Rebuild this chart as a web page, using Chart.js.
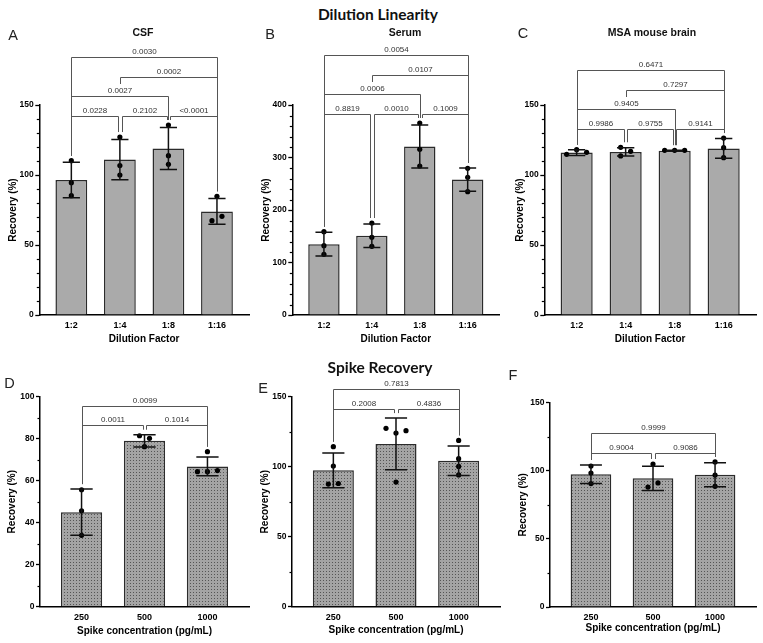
<!DOCTYPE html>
<html>
<head>
<meta charset="utf-8">
<script src="https://cdn.jsdelivr.net/npm/chart.js@4.4.1/dist/chart.umd.min.js"></script>
<style>
  body { margin: 0; background: #fff; }
  #fig { position: relative; width: 763px; height: 643px; overflow: hidden;
         font-family: "Liberation Sans", Arial, sans-serif; color: #111; }
  #fig canvas { position: absolute; }
  .lbl { position: absolute; transform: translate(-50%, -50%); white-space: nowrap; }
  .head { font-family: Lato, "Open Sans", sans-serif; font-weight: 700; font-size: 15.5px; }
  .letter { font-size: 14.5px; font-weight: 300; color: #222; }
  .ptitle { font-weight: 700; font-size: 10.5px; }
</style>
</head>
<body>
<div id="fig"></div>
<script>
// ---- data ----
var dilutionLabels = ['1:2', '1:4', '1:8', '1:16'];
var spikeLabels = ['250', '500', '1000'];

// A - CSF
var csfMean = [96.4, 111, 119, 74];
var csfSd = [12.7, 14.4, 15, 9.2];
var csfPoints = [[110.2, 94.5, 85.2], [127.1, 106.7, 100], [135.7, 113.8, 107.6], [84.8, 67.4, 70.5]];
var csfTests = [[0, 1, '0.0228'], [1, 2, '0.2102'], [2, 3, '<0.0001'], [0, 2, '0.0027'], [1, 3, '0.0002'], [0, 3, '0.0030']];

// B - Serum
var serumMean = [135, 151, 321, 258];
var serumSd = [22.8, 22.3, 41, 22.2];
var serumPoints = [[158.7, 132, 115.6], [175.2, 148, 130.8], [365.7, 315.6, 283.8], [279.4, 262.2, 235]];
var serumTests = [[0, 1, '0.8819'], [1, 2, '0.0010'], [2, 3, '0.1009'], [0, 2, '0.0006'], [1, 3, '0.0107'], [0, 3, '0.0054']];

// C - MSA mouse brain
var brainMean = [116, 116.5, 117.4, 119];
var brainSd = [2, 3, 0.3, 7];
var brainPoints = [[118.1, 116.2, 114.8], [119.8, 116.9, 113.6], [117.6, 117.6, 117.6], [126.4, 119.5, 112.4]];
var brainTests = [[0, 1, '0.9986'], [1, 2, '0.9755'], [2, 3, '0.9141'], [0, 2, '0.9405'], [1, 3, '0.7297'], [0, 3, '0.6471']];

// D, E, F - spike recovery
var spikeDMean = [45, 79, 66.8];
var spikeDSd = [11, 2.9, 4.5];
var spikeDPoints = [[55.7, 45.7, 34], [76.2, 81.4, 80.2], [73.8, 64.3, 64.8, 64.3]];
var spikeDTests = [[0, 1, '0.0011'], [1, 2, '0.1014'], [0, 2, '0.0099']];

var spikeEMean = [97.4, 116.3, 104.3];
var spikeESd = [12.4, 18.4, 10.5];
var spikeEPoints = [[114.3, 100.5, 87.6, 88], [124, 125.7, 127.4, 89], [118.8, 105.7, 100.2, 94.1]];
var spikeETests = [[0, 1, '0.2008'], [1, 2, '0.4836'], [0, 2, '0.7813']];

var spikeFMean = [97.4, 94.4, 97];
var spikeFSd = [6.8, 8.9, 8.8];
var spikeFPoints = [[103.4, 98.3, 90.5], [104.9, 88, 91], [106.4, 96.8, 88.5]];
var spikeFTests = [[0, 1, '0.9004'], [1, 2, '0.9086'], [0, 2, '0.9999']];

// ---- drawing ----
Chart.defaults.font.family = '"Liberation Sans", Arial, sans-serif';
var fig = document.getElementById('fig');
var X_PAD = 0.66;

function text(cls, str, x, y) {
    var d = document.createElement('div');
    d.className = 'lbl ' + cls;
    d.textContent = str;
    d.style.left = x + 'px';
    d.style.top = y + 'px';
    fig.appendChild(d);
}

function dotPattern() {
    var c = document.createElement('canvas');
    c.width = 3; c.height = 3;
    var g = c.getContext('2d');
    g.fillStyle = '#a4a4a4';
    g.fillRect(0, 0, 3, 3);
    g.fillStyle = '#555555';
    g.fillRect(1, 1, 1, 1);
    return g.createPattern(c, 'repeat');
}

// simple beeswarm: spread points that would overlap, in pixels
function swarm(vals, pxY, pxX) {
    var step = 10, hit = 6.5, off = [];
    vals.forEach(function (v) {
        var cands = [0, step, -step, 2 * step, -2 * step];
        for (var k = 0; k < cands.length; k++) {
            var c = cands[k];
            var ok = off.every(function (o, j) {
                return Math.abs((vals[j] - v) * pxY) >= hit || Math.abs(o - c) >= step - 0.5;
            });
            if (ok) { off.push(c); break; }
        }
    });
    var grp = vals.map(function (_, i) { return i; });
    function find(i) { return grp[i] === i ? i : (grp[i] = find(grp[i])); }
    vals.forEach(function (v, i) {
        vals.forEach(function (w, j) {
            if (j > i && Math.abs((v - w) * pxY) < hit) grp[find(j)] = find(i);
        });
    });
    var sets = {};
    vals.forEach(function (_, i) { var g = find(i); (sets[g] = sets[g] || []).push(off[i]); });
    return off.map(function (o, i) {
        var s = sets[find(i)];
        return (o - (Math.min.apply(null, s) + Math.max.apply(null, s)) / 2) / pxX;
    });
}

function prismPlugin(p) {
    return {
        id: 'prism',
        afterDraw: function (chart) {
            var ctx = chart.ctx, x = chart.scales.x, y = chart.scales.y;
            var bars = chart.getDatasetMeta(0).data;
            ctx.save();

            // minor ticks
            ctx.strokeStyle = '#000';
            ctx.lineWidth = 1.2;
            for (var v = p.minor; v < p.max; v += p.minor) {
                if (Math.abs(v / p.major - Math.round(v / p.major)) < 1e-6) continue;
                var ty = Math.round(y.getPixelForValue(v)) + 0.5;
                ctx.beginPath(); ctx.moveTo(x.left, ty); ctx.lineTo(x.left - 2.5, ty); ctx.stroke();
            }

            // error bars (mean +/- SD)
            ctx.strokeStyle = '#111';
            ctx.lineWidth = 1.5;
            p.mean.forEach(function (m, i) {
                var cx = x.getPixelForValue(i);
                var half = bars[i].width * 0.27;
                var y1 = y.getPixelForValue(m + p.sd[i]), y2 = y.getPixelForValue(m - p.sd[i]);
                ctx.beginPath();
                ctx.moveTo(cx, y1); ctx.lineTo(cx, y2);
                ctx.moveTo(cx - half, y1); ctx.lineTo(cx + half, y1);
                ctx.moveTo(cx - half, y2); ctx.lineTo(cx + half, y2);
                ctx.stroke();
            });

            // comparison brackets
            var tops = p.mean.map(function (m, i) {
                var vals = p.points[i].concat([m + p.sd[i]]);
                return y.getPixelForValue(Math.max.apply(null, vals));
            });
            var base = Math.min.apply(null, tops) - 9.4;
            var tests = p.tests.map(function (t) { return { a: t[0], b: t[1], label: t[2] }; });
            var tier = 1;
            tests.slice().sort(function (s, t) {
                return (s.b - s.a) - (t.b - t.a) || s.a - t.a;
            }).forEach(function (t) { t.tier = (t.b - t.a === 1) ? 0 : tier++; });

            ctx.strokeStyle = '#555';
            ctx.lineWidth = 1;
            ctx.fillStyle = '#333';
            ctx.font = '8px "Liberation Sans", Arial, sans-serif';
            ctx.textAlign = 'center';
            ctx.textBaseline = 'alphabetic';
            tests.forEach(function (t) {
                var ly = Math.round(base - t.tier * 19.5) + 0.5;
                function legEnd(c) {
                    var below = tests.filter(function (u) { return u.tier < t.tier && u.a < c && c < u.b; });
                    if (below.length) {
                        var hi = Math.max.apply(null, below.map(function (u) { return u.tier; }));
                        return Math.round(base - hi * 19.5) - 12;
                    }
                    return tops[c] - 5;
                }
                var shareL = tests.some(function (u) { return u !== t && u.tier === t.tier && u.b === t.a; });
                var shareR = tests.some(function (u) { return u !== t && u.tier === t.tier && u.a === t.b; });
                var xl = Math.round(x.getPixelForValue(t.a) + (shareL ? 1.8 : 0)) + 0.5;
                var xr = Math.round(x.getPixelForValue(t.b) - (shareR ? 1.8 : 0)) + 0.5;
                ctx.beginPath();
                ctx.moveTo(xl, legEnd(t.a)); ctx.lineTo(xl, ly);
                ctx.lineTo(xr, ly); ctx.lineTo(xr, legEnd(t.b));
                ctx.stroke();
                ctx.fillText(t.label, (xl + xr) / 2, ly - 3.5);
            });
            ctx.restore();
        }
    };
}

function panel(p) {
    var box = p.box, L = p.area[0], T = p.area[1], R = p.area[2], B = p.area[3];
    var cv = document.createElement('canvas');
    cv.width = box[2] - box[0];
    cv.height = box[3] - box[1];
    cv.style.left = box[0] + 'px';
    cv.style.top = box[1] + 'px';
    fig.appendChild(cv);

    var n = p.labels.length;
    var pxY = (B - T) / p.max;
    var pxX = (R - L) / (n - 1 + 2 * X_PAD);
    var pts = [];
    p.points.forEach(function (grp, i) {
        var dx = swarm(grp, pxY, pxX);
        grp.forEach(function (v, k) { pts.push({ x: i + dx[k], y: v }); });
    });

    new Chart(cv, {
        type: 'bar',
        data: {
            datasets: [{
                data: p.mean.map(function (m, i) { return { x: i, y: m }; }),
                backgroundColor: p.fill,
                borderColor: '#2b2b2b',
                borderWidth: 1.5,
                barPercentage: 0.655,
                categoryPercentage: 1,
                order: 2
            }, {
                type: 'scatter',
                data: pts,
                pointRadius: 2.6,
                pointBackgroundColor: '#000',
                pointBorderWidth: 0,
                order: 1
            }]
        },
        options: {
            responsive: false,
            animation: false,
            devicePixelRatio: 1,
            layout: { padding: { top: T - box[1], right: box[2] - R, left: 0, bottom: 0 } },
            plugins: { legend: { display: false }, tooltip: { enabled: false } },
            scales: {
                x: {
                    type: 'linear', min: -X_PAD, max: n - 1 + X_PAD, offset: false, z: 1,
                    afterBuildTicks: function (s) { s.ticks = p.labels.map(function (_, i) { return { value: i }; }); },
                    afterFit: function (s) { s.height = box[3] - B; },
                    grid: { display: false, drawTicks: false, offset: false },
                    border: { color: '#000', width: 1.5 },
                    ticks: { padding: 5, color: '#000', font: { size: 9, weight: 'bold' },
                             callback: function (v) { return p.labels[v]; } },
                    title: { display: true, text: p.xTitle, color: '#000', font: { size: 10, weight: 'bold' },
                             padding: { top: 0, bottom: p.xTitlePad } }
                },
                y: {
                    min: 0, max: p.max,
                    afterFit: function (s) { s.width = L - box[0]; },
                    ticks: { stepSize: p.major, padding: 1.5, color: '#000', font: { size: 8.5, weight: 'bold' } },
                    grid: { drawOnChartArea: false, drawTicks: true, tickLength: 4, color: '#000', tickWidth: 1.3 },
                    border: { color: '#000', width: 1.5 },
                    title: { display: true, text: 'Recovery (%)', color: '#000', font: { size: 10, weight: 'bold' },
                             padding: { top: p.yTitlePad, bottom: 0 } }
                }
            }
        },
        plugins: [prismPlugin(p)]
    });
}

var grayFill = '#aaaaaa';
var dots = dotPattern();

panel({ labels: dilutionLabels, mean: csfMean, sd: csfSd, points: csfPoints, tests: csfTests,
        max: 150, major: 50, minor: 10, fill: grayFill, xTitle: 'Dilution Factor',
        box: [0, 38, 256, 350], area: [39.3, 105, 249, 315], yTitlePad: 7, xTitlePad: 4.5 });
panel({ labels: dilutionLabels, mean: serumMean, sd: serumSd, points: serumPoints, tests: serumTests,
        max: 400, major: 100, minor: 20, fill: grayFill, xTitle: 'Dilution Factor',
        box: [256, 38, 505, 350], area: [292.3, 105, 499.3, 315], yTitlePad: 4, xTitlePad: 5 });
panel({ labels: dilutionLabels, mean: brainMean, sd: brainSd, points: brainPoints, tests: brainTests,
        max: 150, major: 50, minor: 10, fill: grayFill, xTitle: 'Dilution Factor',
        box: [505, 38, 763, 350], area: [544.3, 105, 756, 315], yTitlePad: 9.7, xTitlePad: 5 });
panel({ labels: spikeLabels, mean: spikeDMean, sd: spikeDSd, points: spikeDPoints, tests: spikeDTests,
        max: 100, major: 20, minor: 10, fill: dots, xTitle: 'Spike concentration (pg/mL)',
        box: [0, 372, 256, 643], area: [40, 396.7, 249, 606.7], yTitlePad: 6.7, xTitlePad: 5.3 });
panel({ labels: spikeLabels, mean: spikeEMean, sd: spikeESd, points: spikeEPoints, tests: spikeETests,
        max: 150, major: 50, minor: 25, fill: dots, xTitle: 'Spike concentration (pg/mL)',
        box: [256, 372, 505, 643], area: [292, 396.7, 500, 606.7], yTitlePad: 3, xTitlePad: 6.5 });
panel({ labels: spikeLabels, mean: spikeFMean, sd: spikeFSd, points: spikeFPoints, tests: spikeFTests,
        max: 150, major: 50, minor: 25, fill: dots, xTitle: 'Spike concentration (pg/mL)',
        box: [505, 372, 763, 643], area: [550, 402.5, 756, 607], yTitlePad: 12, xTitlePad: 8.5 });

// headings, panel letters and titles
text('head', 'Dilution Linearity', 378, 14);
text('head', 'Spike Recovery', 380, 367);
text('letter', 'A', 13, 35);
text('letter', 'B', 270, 34);
text('letter', 'C', 523, 33);
text('letter', 'D', 9.5, 383);
text('letter', 'E', 263, 388);
text('letter', 'F', 513, 375);
text('ptitle', 'CSF', 143, 32);
text('ptitle', 'Serum', 405, 32);
text('ptitle', 'MSA mouse brain', 652, 32);
</script>
</body>
</html>
